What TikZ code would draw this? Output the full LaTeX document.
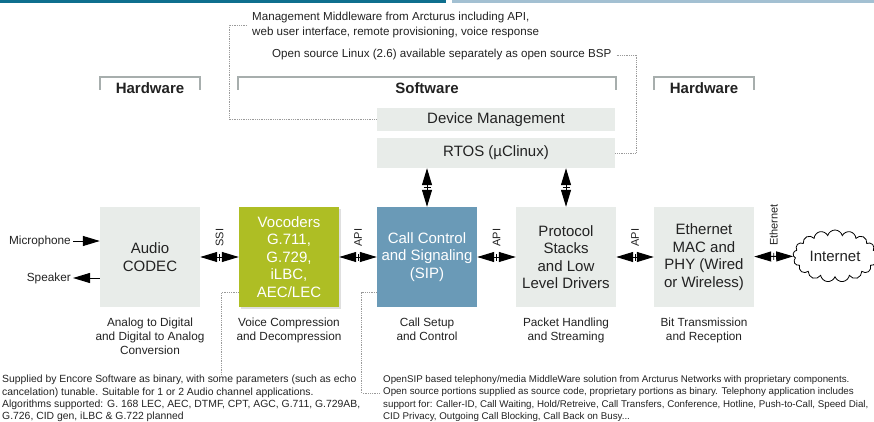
\documentclass[tikz,border=0pt]{standalone}
\usepackage{fontspec}
\setmainfont{Liberation Sans}
\usetikzlibrary{arrows.meta,shapes.symbols,shadows,decorations.markings}

\definecolor{topdark}{HTML}{0E6F8E}
\definecolor{toplight}{HTML}{A3C0D2}
\definecolor{boxgray}{HTML}{E8ECE9}
\definecolor{vocgreen}{HTML}{AEBE24}
\definecolor{sipblue}{HTML}{6A9AB7}
\definecolor{brackgray}{HTML}{A7AEAD}
\definecolor{dotgray}{HTML}{9A9A9A}
\definecolor{inkgray}{HTML}{222222}

\newcommand{\fsz}[2]{\fontsize{#1}{#2}\selectfont}

\begin{document}
\begin{tikzpicture}[x=1pt,y=-1pt,
    blk/.style={minimum width=100pt, minimum height=100pt, inner sep=0pt, align=center, text=inkgray, font=\fsz{15}{17.5}},
    graybox/.style={blk, fill=boxgray},
    bar/.style={fill=boxgray, minimum width=238pt, inner sep=0pt, text=inkgray, font=\fsz{15}{17.5}},
    caption/.style={anchor=north, align=center, inner sep=0pt, text=inkgray, font=\fsz{11.8}{14}},
    note/.style={align=left, inner sep=0pt, text=inkgray},
    tip/.style={line width=1pt, -{Triangle[length=17pt,width=10pt]}},
    biarrow/.style={line width=1pt, {Triangle[length=17pt,width=10pt]}-{Triangle[length=17pt,width=10pt]},
        decoration={markings, mark=at position 0.5 with {\draw[-, line width=0.7pt] (0,-3.5pt) -- (0,3.5pt);}},
        postaction=decorate},
    tag/.style={rotate=90, anchor=west, inner xsep=10pt, inner ysep=0pt, text=inkgray, font=\fsz{11}{13}},
    bracket/.style={brackgray, line width=1.5pt},
    hwlabel/.style={inner sep=0pt, text=inkgray, font=\bfseries\fsz{15}{17}},
    leader/.style={dotgray, densely dotted, line width=0.8pt}]
    \useasboundingbox (0,0) rectangle (874,422);
    \clip (0,0) rectangle (874,422);

    % header strip
    \fill[topdark] (0,0) rectangle (446,3);
    \fill[toplight] (452,0) rectangle (874,3);

    % hardware / software brackets
    \draw[bracket] (100,90) |- (200,77) -- (200,90);
    \draw[bracket] (238,90) |- (616,77) -- (616,90);
    \draw[bracket] (654,90) |- (754,77) -- (754,90);
    \node[hwlabel] (hwleft) at (150,88) {Hardware};
    \node[hwlabel] (swlabel) at (427,88) {Software};
    \node[hwlabel] (hwright) at (704,88) {Hardware};

    \node[note, anchor=west, font=\fsz{11.6}{15}] (mgmtnote) at (252,25)
        {Management Middleware from Arcturus including API,\\web user interface, remote provisioning, voice response};
    \node[note, anchor=west, font=\fsz{11.6}{15}] (linuxnote) at (272,55)
        {Open source Linux (2.6) available separately as open source BSP};

    \node[bar, minimum height=23pt] (devmgmt) at (496,119.5) {Device Management};
    \node[bar, minimum height=30pt] (rtos) at (496,153) {RTOS (µClinux)};

    % main blocks
    \node[graybox] (codec) at (150,257) {Audio\\CODEC};
    \node[blk, fill=vocgreen, text=white, drop shadow={shadow xshift=1.5pt, shadow yshift=-1.5pt, opacity=0.25}] (vocoder) at (289,257)
        {Vocoders\\G.711,\\G.729,\\iLBC,\\AEC/LEC};
    \node[blk, fill=sipblue, text=white] (sip) at (427,257) {Call Control\\and Signaling\\(SIP)};
    \node[graybox] (proto) at (566,257) {Protocol\\Stacks\\and Low\\Level Drivers};
    \node[graybox] (ether) at (704,257) {Ethernet\\MAC and\\PHY (Wired\\or Wireless)};
    \node[cloud, draw, line width=0.8pt, cloud puffs=17, aspect=1.7, minimum width=84pt, minimum height=52pt,
        inner sep=0pt, text=inkgray, font=\fsz{15}{17}] (net) at (835,256) {Internet};

    \node[anchor=east, inner sep=0pt, text=inkgray, font=\fsz{11.8}{13}] (mic) at (71,241) {Microphone};
    \node[anchor=east, inner sep=0pt, text=inkgray, font=\fsz{11.8}{13}] (spk) at (71,278) {Speaker};
    \draw[tip] ([xshift=2pt]mic.east) -- (mic.east -| codec.west);
    \draw[tip] (spk.east -| codec.west) -- ([xshift=2pt]spk.east);

    \draw[biarrow] (codec) -- (vocoder) node[tag, midway] {SSI};
    \draw[biarrow] (vocoder) -- (sip) node[tag, midway] {API};
    \draw[biarrow] (sip) -- (proto) node[tag, midway] {API};
    \draw[biarrow] (proto) -- (ether) node[tag, midway] {API};
    \draw[biarrow] (ether) -- (net) node[tag, midway] {Ethernet};
    \draw[biarrow] (sip.north |- rtos.south) -- (sip.north);
    \draw[biarrow] (proto.north |- rtos.south) -- (proto.north);

    % captions under the blocks
    \node[caption] (codeccap) at (150,318) {Analog to Digital\\and Digital to Analog\\Conversion};
    \node[caption] (voccap) at (289,318) {Voice Compression\\and Decompression};
    \node[caption] (sipcap) at (427,318) {Call Setup\\and Control};
    \node[caption] (protocap) at (566,318) {Packet Handling\\and Streaming};
    \node[caption] (ethercap) at (704,318) {Bit Transmission\\and Reception};

    \node[note, anchor=north west, font=\fsz{10.4}{12.4}] (encorenote) at (2,375)
        {Supplied by Encore Software as binary, with some parameters (such as echo\\
         cancelation) tunable. Suitable for 1 or 2 Audio channel applications.\\
         Algorithms supported: G. 168 LEC, AEC, DTMF, CPT, AGC, G.711, G.729AB,\\
         G.726, CID gen, iLBC \& G.722 planned};
    \node[note, anchor=north west, font=\fsz{9.75}{12.4}] (sipnote) at (383,375)
        {OpenSIP based telephony/media MiddleWare solution from Arcturus Networks with proprietary components.\\
         Open source portions supplied as source code, proprietary portions as binary. Telephony application includes\\
         support for: Caller-ID, Call Waiting, Hold/Retreive, Call Transfers, Conference, Hotline, Push-to-Call, Speed Dial,\\
         CID Privacy, Outgoing Call Blocking, Call Back on Busy...};

    % dotted leaders
    \draw[leader] ([xshift=-5pt]mgmtnote.west) -- ++(-18,0) |- (devmgmt.west);
    \draw[leader] ([xshift=5pt]linuxnote.east) -- ++(20,0) |- (rtos.east);
    \draw[leader] ([yshift=-35pt]vocoder.west) -- ++(-17,0) coordinate (vbend) -- (vbend |- encorenote.north);
    \draw[leader] ([yshift=-35pt]sip.west) -- ++(-15,0) -- ++(0,101) -- ++(18,0);
\end{tikzpicture}
\end{document}
